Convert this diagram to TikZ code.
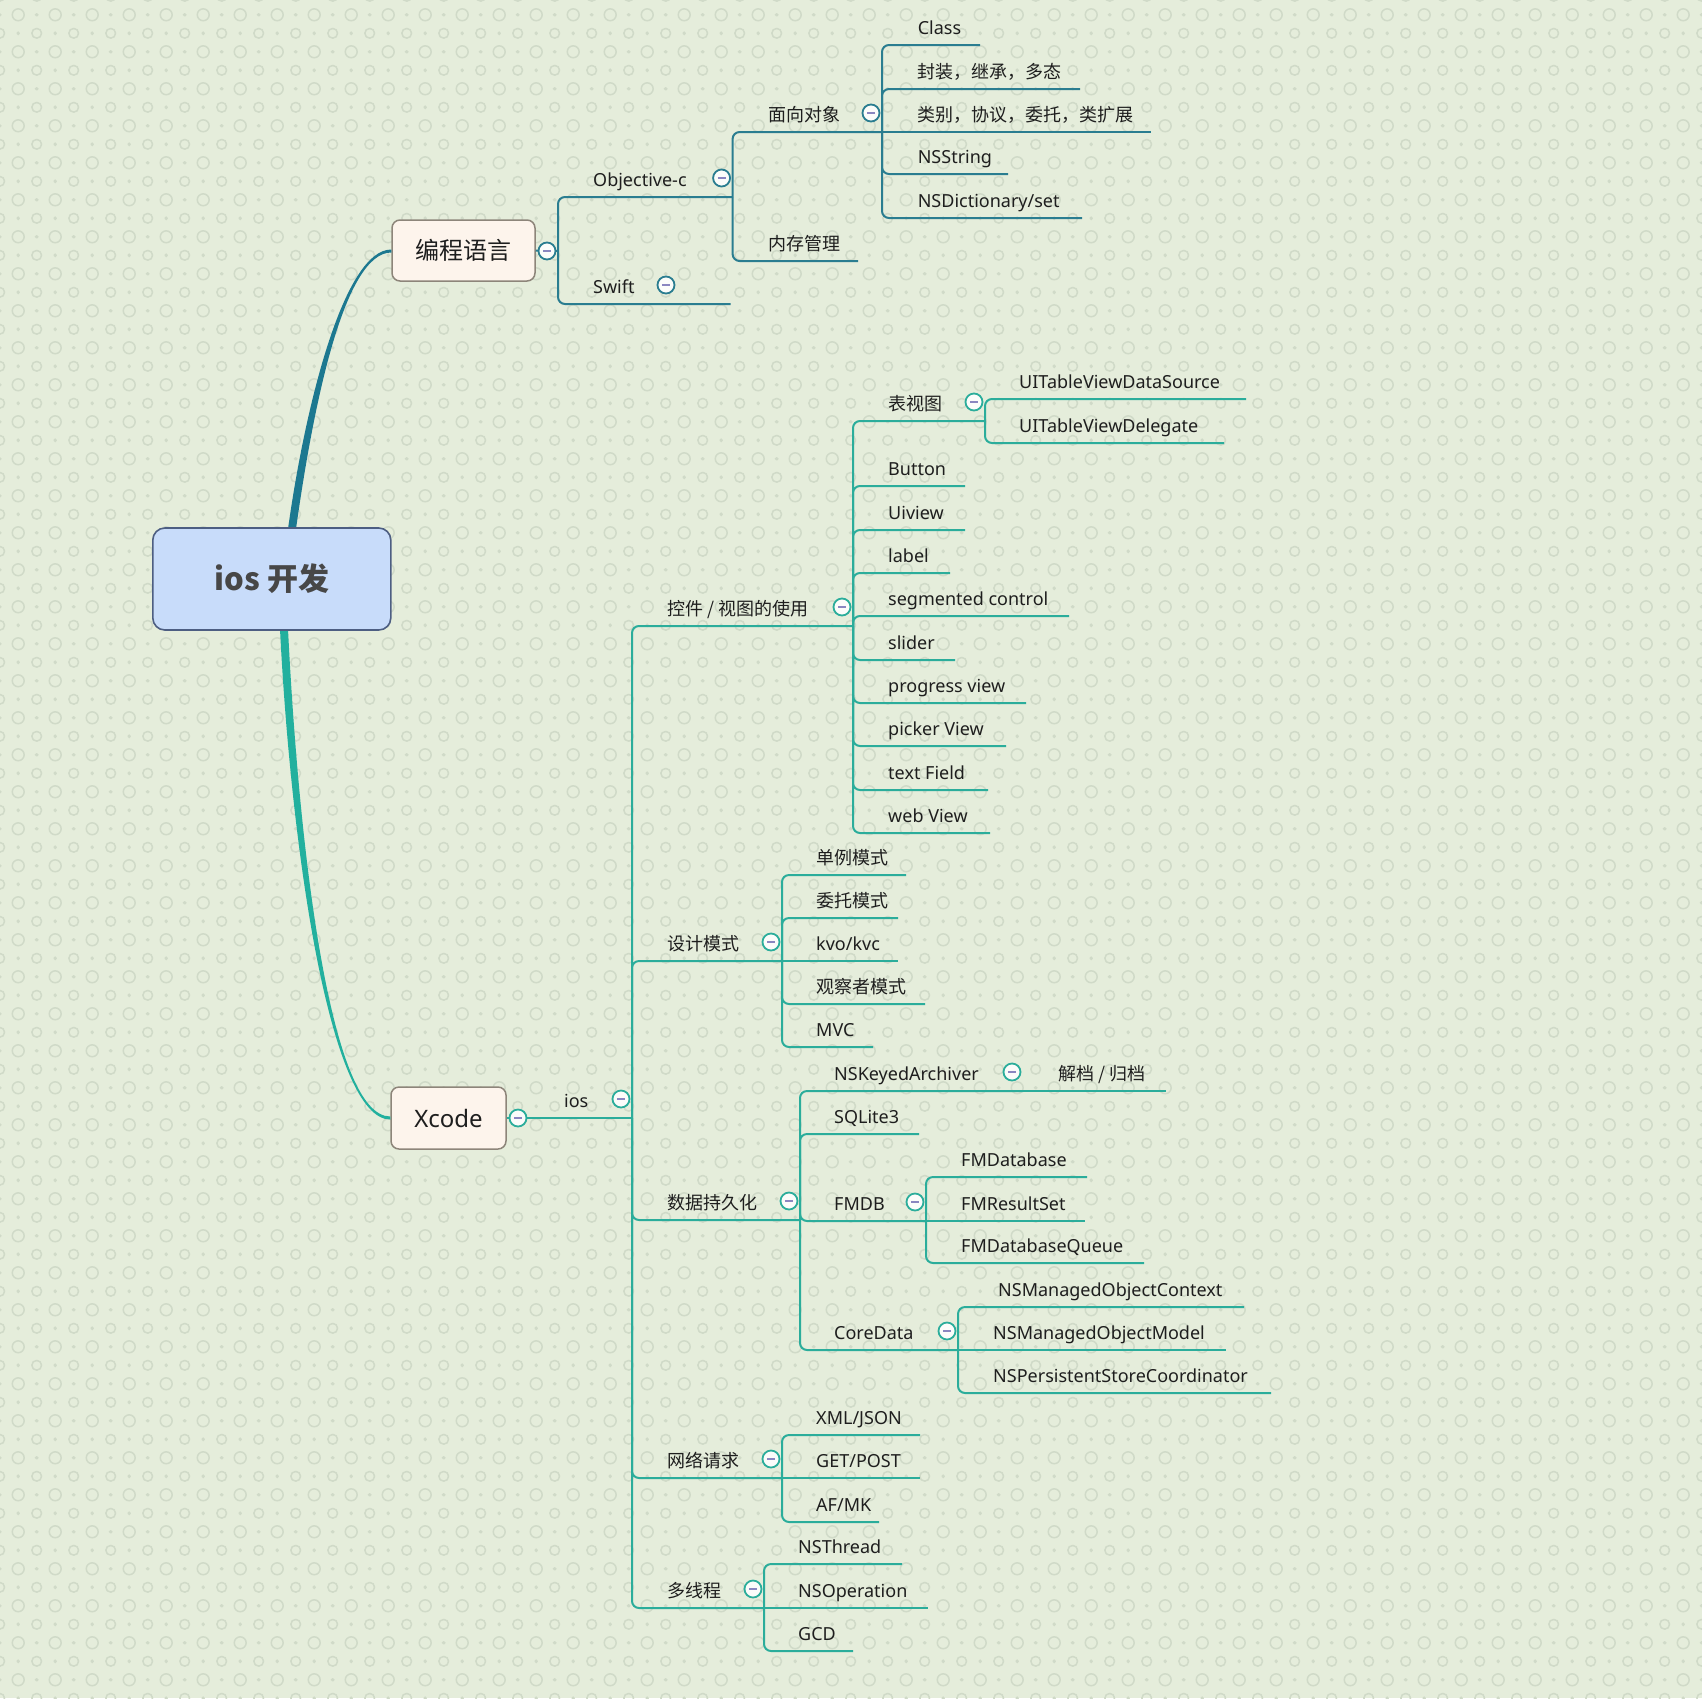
\documentclass[tikz,border=0pt]{standalone}
\usepackage{fontspec}
\usetikzlibrary{patterns}
\setmainfont{Noto Sans}
\newfontfamily\cjk{Noto Sans CJK SC}
\definecolor{bgc}{HTML}{E5EDDB}
\definecolor{patc}{HTML}{D0DAC8}
\definecolor{upc}{HTML}{2A7D90}
\definecolor{upm}{HTML}{1C7890}
\definecolor{loc}{HTML}{2BAD9B}
\definecolor{lom}{HTML}{22B09E}
\definecolor{txt}{HTML}{1E1E1E}
\definecolor{rootfill}{HTML}{C8DCFA}
\definecolor{rootdraw}{HTML}{4D5E82}
\definecolor{boxfill}{HTML}{FDF4EC}
\definecolor{boxdraw}{HTML}{8D857A}
\definecolor{minusc}{HTML}{8A86C0}
\pgfdeclarepatternformonly{bgpat}{\pgfpointorigin}{\pgfpoint{36.7pt}{36.7pt}}{\pgfpoint{36.7pt}{36.7pt}}{%
  \pgfsetlinewidth{1.5pt}%
  \pgfpathcircle{\pgfpoint{18.35pt}{18.35pt}}{6pt}%
  \pgfpathcircle{\pgfpoint{0pt}{0pt}}{4.5pt}%
  \pgfpathcircle{\pgfpoint{36.7pt}{0pt}}{4.5pt}%
  \pgfpathcircle{\pgfpoint{0pt}{36.7pt}}{4.5pt}%
  \pgfpathcircle{\pgfpoint{36.7pt}{36.7pt}}{4.5pt}%
  \pgfusepath{stroke}%
  \pgfpathcircle{\pgfpoint{18.35pt}{0pt}}{1.8pt}%
  \pgfpathcircle{\pgfpoint{18.35pt}{36.7pt}}{1.8pt}%
  \pgfpathcircle{\pgfpoint{0pt}{18.35pt}}{1.8pt}%
  \pgfpathcircle{\pgfpoint{36.7pt}{18.35pt}}{1.8pt}%
  \pgfusepath{fill}%
}
\tikzset{
  upl/.style={draw=upc, line width=2pt, rounded corners=7pt},
  lol/.style={draw=loc, line width=2pt, rounded corners=7pt},
  lab/.style={anchor=base west, inner sep=0pt, text=txt, font=\fontsize{18}{20}\selectfont},
  togbase/.style={circle, fill=white!85!bgc, minimum size=17pt, inner sep=0pt, line width=1.8pt,
    path picture={\draw[minusc, line width=1.8pt] ([xshift=-4pt]path picture bounding box.center) -- ([xshift=4pt]path picture bounding box.center);}},
  togu/.style={togbase, draw=upc},
  togl/.style={togbase, draw=loc},
  topbox/.style={rectangle, rounded corners=8pt, fill=boxfill, draw=boxdraw, line width=1.5pt, text=txt, font=\fontsize{24}{28}\selectfont, inner sep=0pt},
}
\newcommand\leaf[5]{%
  \node[lab] (#1) at (#2,#3-11) {#5};
  \coordinate (#1-e) at (#4,#3);}
\newcommand\togu[2]{\node[togu] (t-#1) at ([xshift=-11pt,yshift=19pt]#2) {};}
\newcommand\togl[2]{\node[togl] (t-#1) at ([xshift=-11pt,yshift=19pt]#2) {};}
\begin{document}
\begin{tikzpicture}[x=1pt,y=-1pt]
\useasboundingbox (0,0) rectangle (1702,1698);
\fill[bgc] (0,0) rectangle (1702,1698);
\fill[pattern=bgpat, pattern color=patc] (0,0) rectangle (1702,1698);
% main boxes
\node[topbox, minimum width=143pt, minimum height=61pt] (lang) at (463.5,250.5) {\cjk 编程语言};
\node[topbox, minimum width=115pt, minimum height=62pt] (xcode) at (448.5,1118) {Xcode};
% tapered main connectors
\fill[upm] (288,529) .. controls (306,400) and (345,249.5) .. (lang.west |- 0,249.5)
   -- (lang.west |- 0,252.5) .. controls (345,252.5) and (314,400) .. (296,529) -- cycle;
\fill[lom] (280,629) .. controls (291,850) and (330,1119.5) .. (xcode.west |- 0,1119.5)
   -- (xcode.west |- 0,1116.5) .. controls (330,1116.5) and (299,850) .. (288,629) -- cycle;
\node[rectangle, rounded corners=12pt, fill=rootfill, draw=rootdraw, line width=1.6pt,
      minimum width=238pt, minimum height=102pt, inner sep=0pt, text=black!72,
      font=\fontsize{31}{36}\selectfont\cjk\bfseries] (root) at (271.8,579) {ios 开发};

% ---------- upper subtree ----------
\coordinate (langj) at (558,251);
\leaf{objc}{593}{197}{732.6}{Objective-c}
\leaf{swift}{593}{304}{730.5}{Swift}
\leaf{oo}{768}{132}{882}{\cjk 面向对象}
\leaf{mem}{768}{261}{858}{\cjk 内存管理}
\leaf{cls}{917.6}{45}{980}{Class}
\leaf{fz}{917.6}{89}{1080}{\cjk 封装，继承，多态}
\leaf{lb}{917.6}{132}{1151}{\cjk 类别，协议，委托，类扩展}
\leaf{nss}{917.6}{174}{1008}{NSString}
\leaf{nsd}{917.6}{218}{1082}{NSDictionary/set}

\draw[upl] (lang.east) -- (langj);
\draw[upl] (langj) |- (objc-e);
\draw[upl] (langj) |- (swift-e);
\draw[upl] (objc-e) |- (oo-e);
\draw[upl] (objc-e) |- (mem-e);
\draw[upl] (oo-e) |- (cls-e);
\draw[upl] (oo-e) |- (fz-e);
\draw[upl] (oo-e) -- (lb-e);
\draw[upl] (oo-e) |- (nss-e);
\draw[upl] (oo-e) |- (nsd-e);

\node[togu] (t-lang) at (547,251) {};
\togu{objc}{objc-e}
\node[togu] (t-swift) at (666,285) {};
\togu{oo}{oo-e}

% ---------- lower subtree ----------
\leaf{ios}{564}{1118}{632}{ios}
\leaf{ctrl}{667.6}{626}{853}{\cjk 控件 / 视图的使用}
\leaf{dp}{667.6}{961}{782}{\cjk 设计模式}
\leaf{ds}{667.6}{1220}{800}{\cjk 数据持久化}
\leaf{net}{667.6}{1478}{782}{\cjk 网络请求}
\leaf{mt}{667.6}{1608}{764}{\cjk 多线程}
% controls
\leaf{tv}{888}{421}{985}{\cjk 表视图}
\leaf{uids}{1019}{399}{1246}{UITableViewDataSource}
\leaf{uidl}{1019}{443}{1224}{UITableViewDelegate}
\leaf{btn}{888}{486}{965}{Button}
\leaf{uiv}{888}{530}{965}{Uiview}
\leaf{lbl}{888}{573}{950}{label}
\leaf{seg}{888}{616}{1069}{segmented control}
\leaf{sld}{888}{660}{955}{slider}
\leaf{prg}{888}{703}{1026}{progress view}
\leaf{pkr}{888}{746}{1006}{picker View}
\leaf{tf}{888}{790}{988}{text Field}
\leaf{wv}{888}{833}{990}{web View}
% design patterns
\leaf{dl}{816}{875}{906}{\cjk 单例模式}
\leaf{dw}{816}{918}{898}{\cjk 委托模式}
\leaf{kvo}{816}{961}{898}{kvo/kvc}
\leaf{obs}{816}{1004}{925}{\cjk 观察者模式}
\leaf{mvc}{816}{1047}{873}{MVC}
% persistence
\leaf{ka}{834}{1091}{1023}{NSKeyedArchiver}
\leaf{jd}{1058}{1091}{1166}{\cjk 解档 / 归档}
\leaf{sq}{834}{1134}{919}{SQLite3}
\leaf{fm}{834}{1221}{926}{FMDB}
\leaf{fmd}{961}{1177}{1087}{FMDatabase}
\leaf{fmr}{961}{1221}{1085}{FMResultSet}
\leaf{fmq}{961}{1263}{1144}{FMDatabaseQueue}
\leaf{cd}{834}{1350}{958}{CoreData}
\leaf{moc}{998}{1307}{1244}{NSManagedObjectContext}
\leaf{mom}{993}{1350}{1226}{NSManagedObjectModel}
\leaf{psc}{993}{1393}{1271}{NSPersistentStoreCoordinator}
% network
\leaf{xml}{816}{1435}{920}{XML/JSON}
\leaf{get}{816}{1478}{920}{GET/POST}
\leaf{af}{816}{1522}{879}{AF/MK}
% threads
\leaf{nst}{798}{1564}{902}{NSThread}
\leaf{nso}{798}{1608}{928}{NSOperation}
\leaf{gcd}{798}{1651}{853}{GCD}

\draw[lol] (xcode.east) -- (ios-e);
\foreach \c in {ctrl,dp,ds,net,mt} { \draw[lol] (ios-e) |- (\c-e); }
\draw[lol] (ctrl-e) |- (tv-e);
\draw[lol] (tv-e) |- (uids-e);
\draw[lol] (tv-e) |- (uidl-e);
\foreach \c in {btn,uiv,lbl,seg,sld,prg,pkr,tf,wv} { \draw[lol] (ctrl-e) |- (\c-e); }
\foreach \c in {dl,dw,obs,mvc} { \draw[lol] (dp-e) |- (\c-e); }
\draw[lol] (dp-e) -- (kvo-e);
\foreach \c in {ka,sq,fm,cd} { \draw[lol] (ds-e) |- (\c-e); }
\draw[lol] (ka-e) -- (jd-e);
\draw[lol] (fm-e) |- (fmd-e);
\draw[lol] (fm-e) -- (fmr-e);
\draw[lol] (fm-e) |- (fmq-e);
\draw[lol] (cd-e) |- (moc-e);
\draw[lol] (cd-e) -- (mom-e);
\draw[lol] (cd-e) |- (psc-e);
\draw[lol] (net-e) |- (xml-e);
\draw[lol] (net-e) -- (get-e);
\draw[lol] (net-e) |- (af-e);
\draw[lol] (mt-e) |- (nst-e);
\draw[lol] (mt-e) -- (nso-e);
\draw[lol] (mt-e) |- (gcd-e);

\node[togl] (t-xcode) at (518,1118) {};
\togl{ios}{ios-e}
\togl{ctrl}{ctrl-e}
\togl{tv}{tv-e}
\togl{dp}{dp-e}
\togl{ds}{ds-e}
\togl{ka}{ka-e}
\togl{fm}{fm-e}
\togl{cd}{cd-e}
\togl{net}{net-e}
\togl{mt}{mt-e}
\end{tikzpicture}
\end{document}
